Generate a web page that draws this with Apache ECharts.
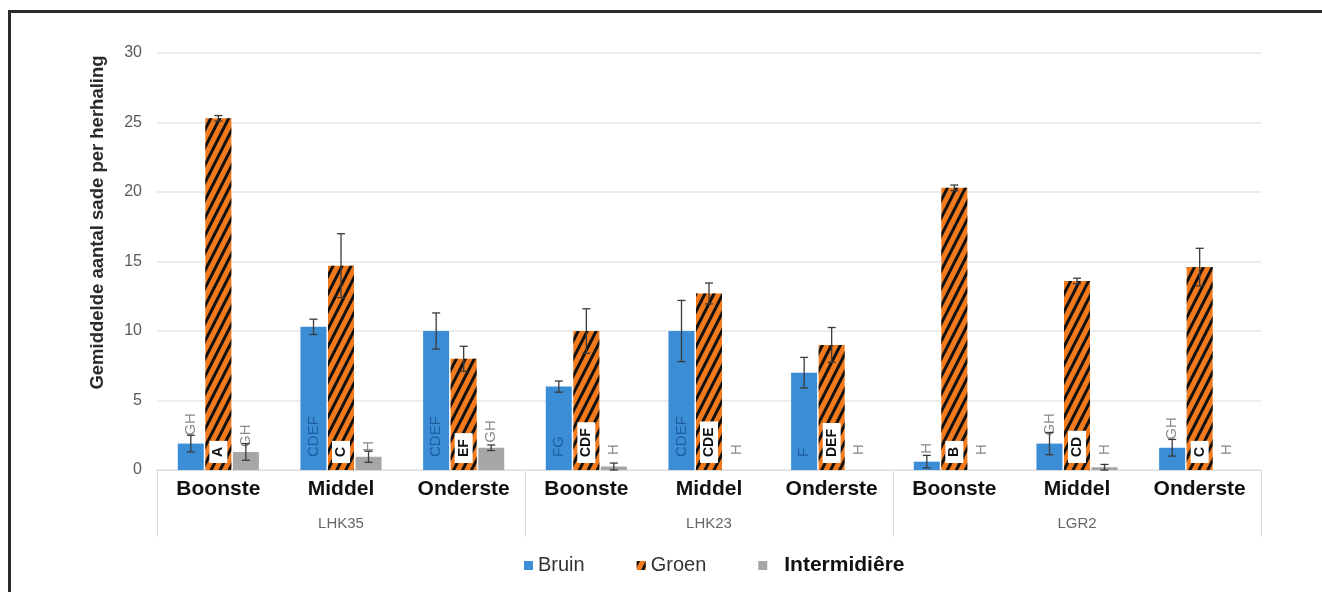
<!DOCTYPE html>
<html>
<head>
<meta charset="utf-8">
<script src="https://cdn.jsdelivr.net/npm/echarts@6/dist/echarts.min.js"></script>
<style>
  html, body { margin: 0; padding: 0; background: #fff; }
  #chart { width: 1322px; height: 592px; }
</style>
</head>
<body>
<div id="chart"></div>
<script>
// categories
const positions = ['Boonste', 'Middel', 'Onderste', 'Boonste', 'Middel', 'Onderste', 'Boonste', 'Middel', 'Onderste'];
const lines = ['LHK35', 'LHK23', 'LGR2'];
const yTicks = [0, 5, 10, 15, 20, 25, 30];

// means and error (+/-) per series
const bruin = [1.9, 10.3, 10.0, 6.0, 10.0, 7.0, 0.6, 1.9, 1.6];
const bruinErr = [0.6, 0.55, 1.3, 0.4, 2.2, 1.1, 0.45, 0.8, 0.6];
const groen = [25.3, 14.7, 8.0, 10.0, 12.7, 9.0, 20.3, 13.6, 14.6];
const groenErr = [0.2, 2.3, 0.9, 1.6, 0.75, 1.25, 0.2, 0.2, 1.35];
const inter = [1.3, 0.95, 1.6, 0.25, 0, 0, 0, 0.2, 0];
const interErr = [0.6, 0.4, 0.2, 0.25, 0, 0, 0, 0.2, 0];

// significance letters
const bruinLetters = ['GH', 'CDEF', 'CDEF', 'FG', 'CDEF', 'F', 'H', 'GH', 'GH'];
const groenLetters = ['A', 'C', 'EF', 'CDF', 'CDE', 'DEF', 'B', 'CD', 'C'];
const interLetters = ['GH', 'H', 'GH', 'H', 'H', 'H', 'H', 'H', 'H'];

const BLUE = '#3b8ed6';
const ORANGE = '#f27a1c';
const GREY = '#a6a6a6';
const LETTER_GREY = '#8a8a8a';
const FONT = 'Liberation Sans';

const BAR_W = 26;
const STEP = 27.5; // bar width + gap

const chart = echarts.init(document.getElementById('chart'));

function letterLabel(color, extra) {
    return Object.assign({
        show: true,
        position: 'insideBottom',
        distance: 13,
        rotate: 90,
        align: 'left',
        verticalAlign: 'middle',
        fontFamily: FONT,
        fontSize: 15,
        color: color
    }, extra || {});
}

function errorSeries(name, means, errs, k) {
    return {
        type: 'custom',
        name: name,
        z: 10,
        silent: true,
        data: means.map((m, i) => [i, m, errs[i]]),
        renderItem: function (params, api) {
            const err = api.value(2);
            if (!err) return null;
            const idx = api.value(0);
            const m = api.value(1);
            const hi = api.coord([idx, m + err]);
            const lo = api.coord([idx, m - err]);
            const x = hi[0] + k * STEP;
            const style = { stroke: '#3a3a3a', lineWidth: 1.3 };
            return {
                type: 'group',
                children: [
                    { type: 'line', shape: { x1: x, y1: hi[1], x2: x, y2: lo[1] }, style: style },
                    { type: 'line', shape: { x1: x - 4, y1: hi[1], x2: x + 4, y2: hi[1] }, style: style },
                    { type: 'line', shape: { x1: x - 4, y1: lo[1], x2: x + 4, y2: lo[1] }, style: style }
                ]
            };
        }
    };
}

const option = {
    animation: false,
    backgroundColor: '#fff',
    grid: { left: 157, right: 61, top: 53, bottom: 122 },
    legend: {
        left: 519,
        top: 550,
        itemWidth: 9,
        itemHeight: 9,
        itemGap: 52,
        icon: 'rect',
        textStyle: { fontFamily: FONT, fontSize: 20, color: '#333' },
        data: [
            { name: 'Bruin' },
            { name: 'Groen' },
            { name: 'Intermidiêre', textStyle: { fontWeight: 'bold', fontSize: 21, color: '#111', padding: [0, 0, 0, 12] } }
        ]
    },
    xAxis: [
        {
            type: 'category',
            data: positions,
            axisLine: { lineStyle: { color: '#dcdcdc' } },
            axisTick: { show: false },
            axisLabel: {
                interval: 0,
                margin: 9,
                fontFamily: FONT,
                fontSize: 21,
                fontWeight: 'bold',
                color: '#111'
            }
        },
        {
            type: 'category',
            data: lines,
            position: 'bottom',
            axisLine: { show: false },
            axisTick: { show: true, length: 67, lineStyle: { color: '#dcdcdc' } },
            axisLabel: { margin: 46, fontFamily: FONT, fontSize: 15, color: '#666' }
        }
    ],
    yAxis: {
        type: 'value',
        min: 0,
        max: yTicks[yTicks.length - 1],
        interval: yTicks[1] - yTicks[0],
        name: 'Gemiddelde aantal sade per herhaling',
        nameLocation: 'middle',
        nameGap: 50,
        nameTextStyle: {
            fontFamily: FONT,
            fontSize: 18.5,
            fontWeight: 'bold',
            color: '#2a2a2a',
            padding: [0, 0, 0, 78]
        },
        axisLine: { show: false },
        axisTick: { show: false },
        axisLabel: { margin: 15, fontFamily: FONT, fontSize: 16, color: '#5a5a5a' },
        splitLine: { lineStyle: { color: '#e6e6e6', width: 1.5 } }
    },
    series: [
        {
            type: 'bar',
            name: 'Bruin',
            barWidth: BAR_W,
            barGap: '6%',
            itemStyle: { color: BLUE },
            data: bruin.map((v, i) => ({
                value: v,
                label: v > 4
                    ? letterLabel('#1d5e9e', { formatter: bruinLetters[i] })
                    : letterLabel(LETTER_GREY, { formatter: bruinLetters[i], position: 'top', distance: 8 })
            }))
        },
        {
            type: 'bar',
            name: 'Groen',
            barWidth: BAR_W,
            barGap: '6%',
            itemStyle: {
                color: ORANGE,
                decal: {
                    symbol: 'rect',
                    symbolSize: 1,
                    color: '#111',
                    dashArrayX: [1, 0],
                    dashArrayY: [3, 5],
                    rotation: -Math.PI * 0.35
                }
            },
            data: groen.map((v, i) => ({
                value: v,
                label: letterLabel('#111', {
                    formatter: groenLetters[i],
                    distance: 7,
                    fontSize: 14,
                    fontWeight: 'bold',
                    backgroundColor: '#fff',
                    padding: [2, 6, 2, 6]
                })
            }))
        },
        {
            type: 'bar',
            name: 'Intermidiêre',
            barWidth: BAR_W,
            barGap: '6%',
            itemStyle: { color: GREY },
            data: inter.map((v, i) => ({
                value: v,
                label: v > 0.5
                    ? letterLabel(LETTER_GREY, { formatter: interLetters[i], position: 'top', distance: 5 })
                    : letterLabel(LETTER_GREY, { formatter: interLetters[i], distance: 15 })
            }))
        },
        errorSeries('errBruin', bruin, bruinErr, -1),
        errorSeries('errGroen', groen, groenErr, 0),
        errorSeries('errInter', inter, interErr, 1)
    ],
    graphic: [
        {
            type: 'polyline',
            silent: true,
            shape: { points: [[9.5, 592], [9.5, 11.5], [1322, 11.5]] },
            style: { stroke: '#2b2b2b', lineWidth: 3, fill: null }
        }
    ]
};

chart.setOption(option);
</script>
</body>
</html>
